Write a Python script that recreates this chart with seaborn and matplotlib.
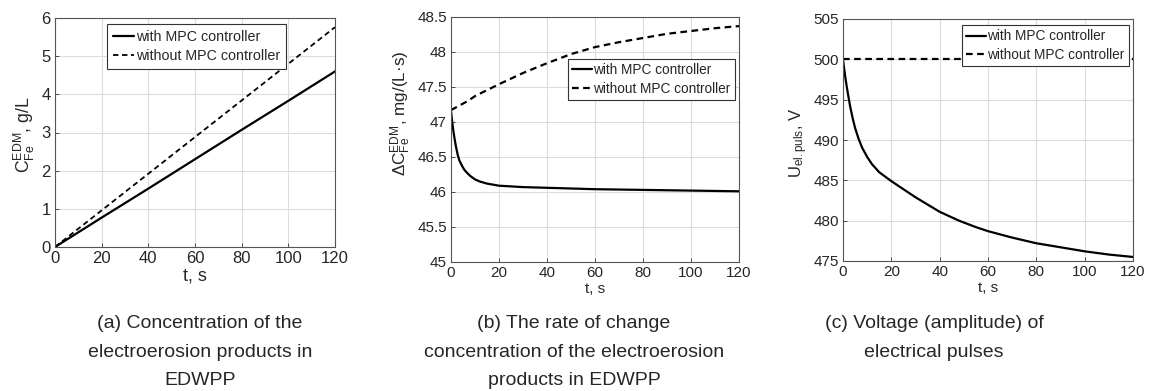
import numpy as np
import pandas as pd
import matplotlib
matplotlib.use("Agg")
import matplotlib.pyplot as plt
import seaborn as sns
from matplotlib.ticker import FuncFormatter

# (a) concentration, g/L
t_a = [0, 20, 40, 60, 80, 100, 120]
conc_mpc = [0, 0.77, 1.53, 2.30, 3.07, 3.83, 4.60]
conc_nompc = [0, 0.96, 1.92, 2.88, 3.84, 4.80, 5.76]

# (b) rate of change, mg/(L*s)
t_b_mpc = [0, 0.5, 1, 1.5, 2, 2.8, 3.5, 4.5, 5.5, 6.5, 8, 10, 12, 15, 20, 30, 40, 60, 80, 100, 120]
rate_mpc = [47.16, 47.0, 46.87, 46.76, 46.66, 46.53, 46.45, 46.38, 46.32, 46.28, 46.23, 46.18,
            46.15, 46.12, 46.09, 46.07, 46.06, 46.04, 46.03, 46.02, 46.01]
t_b_nompc = [0, 7, 10, 20, 30, 40, 50, 60, 70, 80, 90, 100, 110, 120]
rate_nompc = [47.17, 47.3, 47.37, 47.54, 47.7, 47.84, 47.97, 48.07, 48.14, 48.2, 48.26, 48.3,
              48.34, 48.37]

# (c) pulse voltage, V
t_c = [0, 0.5, 1, 1.5, 2, 3, 4, 5, 6.5, 8, 10, 12, 15, 20, 25, 30, 35, 40, 48, 55, 60, 70, 80,
       90, 100, 110, 120]
volt_mpc = [500, 498.8, 497.7, 496.7, 495.8, 494.1, 492.7, 491.5, 490.1, 489.0, 487.9, 487.0,
            486.0, 484.9, 483.9, 482.9, 482.0, 481.1, 480.0, 479.2, 478.7, 477.9, 477.2, 476.7,
            476.2, 475.8, 475.5]
t_c_nompc = [0, 120]
volt_nompc = [500, 500]

captions = ["(a) Concentration of the\nelectroerosion products in\nEDWPP",
            "(b) The rate of change\nconcentration of the electroerosion\nproducts in EDWPP",
            "(c) Voltage (amplitude) of\nelectrical pulses"]

sns.set_theme(style="whitegrid")
plt.rcParams['font.family'] = ['Liberation Sans', 'DejaVu Sans']
plt.rcParams['mathtext.fontset'] = 'custom'
plt.rcParams['mathtext.rm'] = 'Liberation Sans'
plt.rcParams['mathtext.it'] = 'Liberation Sans'

fig = plt.figure(figsize=(11.54, 3.91), dpi=100)
W, H = 1154, 391


def add_ax(l, t, r, b):
    return fig.add_axes([l / W, 1 - b / H, (r - l) / W, (b - t) / H])


ax_a = add_ax(55, 18, 335, 247)
ax_b = add_ax(451, 17, 739, 262)
ax_c = add_ax(843, 19, 1133, 261)

lw = 1.6
dash = (0, (3, 2))
sns.lineplot(x=t_a, y=conc_mpc, ax=ax_a, color='black', lw=lw, label='with MPC controller')
sns.lineplot(x=t_a, y=conc_nompc, ax=ax_a, color='black', lw=1.3, linestyle=dash,
             label='without MPC controller')
sns.lineplot(x=t_b_mpc, y=rate_mpc, ax=ax_b, color='black', lw=lw, label='with MPC controller')
sns.lineplot(x=t_b_nompc, y=rate_nompc, ax=ax_b, color='black', lw=lw, linestyle=dash,
             label='without MPC controller')
sns.lineplot(x=t_c, y=volt_mpc, ax=ax_c, color='black', lw=lw, label='with MPC controller')
sns.lineplot(x=t_c_nompc, y=volt_nompc, ax=ax_c, color='black', lw=lw, linestyle=dash,
             label='without MPC controller')

fmt = FuncFormatter(lambda v, p: f"{v:g}")
# ax, ylim, yticks, ylabel, ylabel size, ylabel pos (axes coords), xlabel size, tick size
settings = [
    (ax_a, (0, 6), np.arange(0, 6.1, 1), r"$\mathregular{C_{Fe}^{EDM}}$, g/L", 12.7, (-0.064, 0.49), 13, 12),
    (ax_b, (45, 48.5), np.arange(45, 48.51, 0.5), r"$\mathregular{\Delta C_{Fe}^{EDM}}$, mg/(L·s)", 12.3, (-0.132, 0.606), 11, 11),
    (ax_c, (475, 505), np.arange(475, 505.1, 5), r"$\mathregular{U_{el.puls}}$, V", 12, (-0.114, 0.49), 11, 11),
]
for ax, ylim, yt, ylab, ylfs, ypos, xlfs, tfs in settings:
    ax.set_xlim(0, 120)
    ax.set_ylim(*ylim)
    ax.set_xticks(np.arange(0, 121, 20))
    ax.set_yticks(yt)
    ax.yaxis.set_major_formatter(fmt)
    ax.set_xlabel("t, s", fontsize=xlfs, labelpad=1)
    ax.set_ylabel(ylab, fontsize=ylfs)
    ax.yaxis.set_label_coords(*ypos)
    ax.tick_params(axis='both', labelsize=tfs, direction='in', length=3, width=0.6,
                   color='#333333', pad=3, left=True, bottom=True)
    ax.grid(True, color='#dcdcdc', lw=0.8)
    for s in ax.spines.values():
        s.set_visible(True)
        s.set_color('#555555')
        s.set_linewidth(0.8)

leg_kw = dict(frameon=True, fancybox=False, framealpha=1, edgecolor='#333333',
              handlelength=1.5, handletextpad=0.1, labelspacing=0.35, borderaxespad=0.2)
ax_a.legend(loc='upper center', bbox_to_anchor=(0.505, 0.985), fontsize=10.3,
            borderpad=0.4, **leg_kw)
ax_b.legend(loc='upper right', bbox_to_anchor=(0.995, 0.84), fontsize=9.8,
            borderpad=0.3, **leg_kw)
ax_c.legend(loc='upper right', bbox_to_anchor=(0.995, 0.985), fontsize=9.8,
            borderpad=0.3, **leg_kw)
for ax in (ax_a, ax_b, ax_c):
    ax.get_legend().get_frame().set_linewidth(0.8)

cap_x = [200, 574, 934]
for x, txt in zip(cap_x, captions):
    fig.text(x / W, 1 - 315 / H, txt, ha='center', va='top', fontsize=14,
             family=['Liberation Sans Narrow', 'Liberation Sans'], linespacing=1.9)

fig.savefig("out.png", dpi=100)
